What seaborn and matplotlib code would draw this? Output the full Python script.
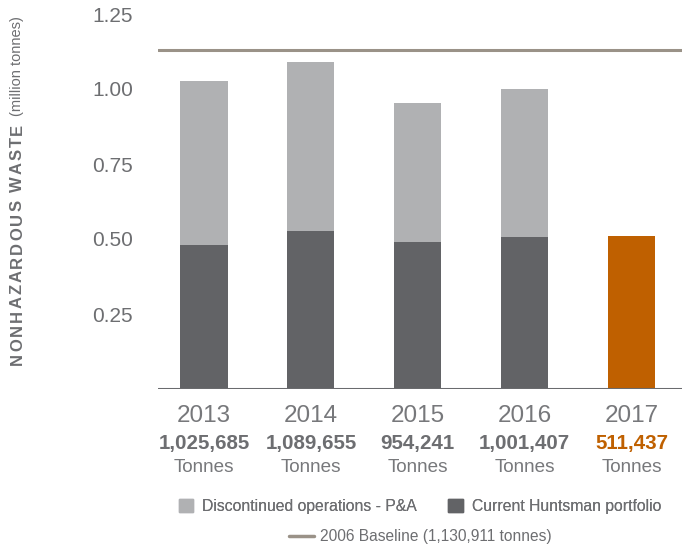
import matplotlib
matplotlib.use("Agg")
import matplotlib.pyplot as plt
import matplotlib.patches as mpatches
import matplotlib.lines as mlines
import seaborn as sns
import pandas as pd

years = ["2013", "2014", "2015", "2016", "2017"]
totals = [1.025685, 1.089655, 0.954241, 1.001407, 0.511437]
current = [0.480, 0.527, 0.490, 0.507, 0.511437]
total_labels = ["1,025,685", "1,089,655", "954,241", "1,001,407", "511,437"]
baseline = 1.130911
yticks = [0.25, 0.50, 0.75, 1.00, 1.25]
ytick_labels = ["0.25", "0.50", "0.75", "1.00", "1.25"]

LIGHT = "#b0b1b3"
DARK = "#626366"
ORANGE = "#bf6000"
BASE = "#9a9288"
TXT = "#6d6e71"

sns.set_theme(style="white")
plt.rcParams["font.family"] = ["Liberation Sans", "DejaVu Sans"]

W, H = 682, 548
fig = plt.figure(figsize=(W / 100, H / 100), dpi=100)
ax = fig.add_axes([158 / W, 159 / H, 1 - 158 / W, 375 / H])

df = pd.DataFrame({"year": years, "total": totals, "current": current})
top_colors = [LIGHT, LIGHT, LIGHT, LIGHT, ORANGE]
cur_colors = [DARK, DARK, DARK, DARK, ORANGE]

sns.barplot(data=df, x="year", y="total", hue="year", palette=top_colors,
            width=0.44, legend=False, ax=ax, saturation=1, linewidth=0)
sns.barplot(data=df, x="year", y="current", hue="year", palette=cur_colors,
            width=0.44, legend=False, ax=ax, saturation=1, linewidth=0)

ax.axhline(baseline, color=BASE, lw=2.2, zorder=3)
ax.axhline(0, color="#6a6b6e", lw=2.2, zorder=3)

ax.set_xlim(-0.43, 4.47)
ax.set_ylim(0, 1.25)
for s in ax.spines.values():
    s.set_visible(False)

ax.set_yticks(yticks)
ax.set_yticklabels(ytick_labels)
ax.tick_params(axis="y", length=0, pad=18, labelsize=15, labelcolor=TXT)
ax.set_xticks([])
ax.set_xlabel("")
ax.set_ylabel("")

tr = ax.get_xaxis_transform()
for i, (yr, lab) in enumerate(zip(years, total_labels)):
    col = ORANGE if i == 4 else TXT
    ax.text(i, -0.072, yr, transform=tr, ha="center", va="center",
            fontsize=17.5, color="#77787b")
    ax.text(i, -0.145, lab, transform=tr, ha="center", va="center",
            fontsize=14.8, fontweight="bold", color=col)
    ax.text(i, -0.21, "Tonnes", transform=tr, ha="center", va="center",
            fontsize=13.6, color="#77787b")

# y axis label: bold letter-spaced part, placed char by char, then normal part
fig.canvas.draw()
renderer = fig.canvas.get_renderer()
label = "NONHAZARDOUS WASTE"
xc = 17.5 / W
y_px = H - 365  # bottom end in pixels from bottom
spacing = 2.0
for ch in label:
    if ch == " ":
        y_px += 6
        continue
    t = fig.text(xc, y_px / H, ch, rotation=90, ha="center", va="bottom",
                 fontsize=12, fontweight="bold", color=TXT)
    bb = t.get_window_extent(renderer)
    y_px += bb.height + spacing
fig.text(xc, (H - 116) / H, "(million tonnes)", rotation=90, ha="center",
         va="bottom", fontsize=10.5, color=TXT)

h1 = mpatches.Patch(color=LIGHT, label="Discontinued operations - P&A")
h2 = mpatches.Patch(color=DARK, label="Current Huntsman portfolio")
leg1 = fig.legend(handles=[h1, h2], loc="center", bbox_to_anchor=(420 / W, 1 - 506 / H),
                  ncol=2, frameon=False, fontsize=11.3, handlelength=0.9, handleheight=0.9,
                  handletextpad=0.6, columnspacing=2.0, labelcolor=TXT)
h3 = mlines.Line2D([], [], color=BASE, lw=2.5, label="2006 Baseline (1,130,911 tonnes)")
leg2 = fig.legend(handles=[h3], loc="center", bbox_to_anchor=(420 / W, 1 - 537 / H),
                  frameon=False, fontsize=11.2, handlelength=1.6, handletextpad=0.4,
                  labelcolor=TXT)
fig.add_artist(leg1)

fig.savefig("out.png", dpi=100)
